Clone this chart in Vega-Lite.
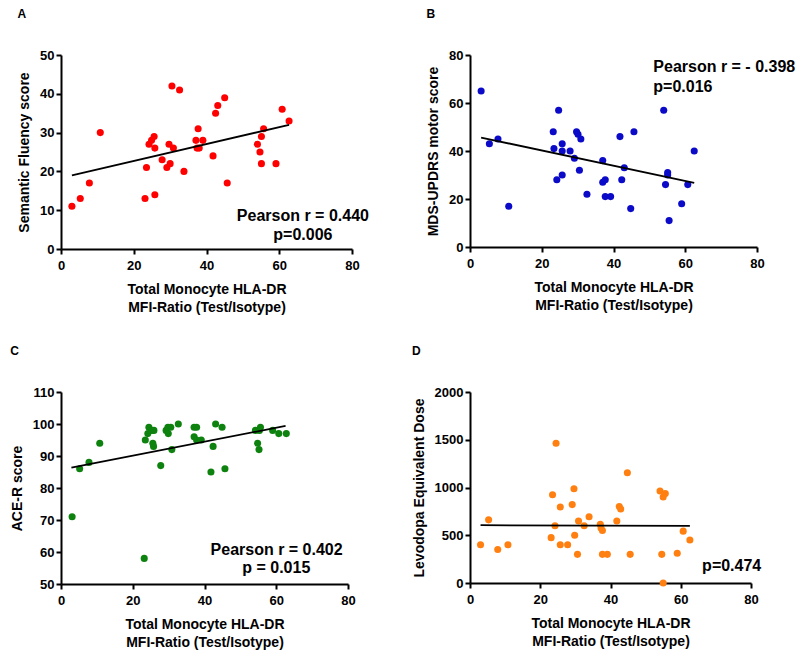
{
  "$schema": "https://vega.github.io/schema/vega-lite/v6.json",
  "background": "white",
  "padding": {"left": 10, "top": 8, "right": 5, "bottom": 5},
  "config": {
    "font": "Liberation Sans",
    "view": {"stroke": null},
    "axis": {
      "grid": false,
      "labelFont": "Liberation Sans",
      "labelFontSize": 13,
      "labelFontWeight": "bold",
      "labelColor": "black",
      "labelFlush": false,
      "labelOverlap": false,
      "titleFont": "Liberation Sans",
      "titleFontSize": 14,
      "titleFontWeight": "bold",
      "titleColor": "black",
      "titleLineHeight": 18,
      "domainColor": "black",
      "domainWidth": 2,
      "tickColor": "black",
      "tickWidth": 2,
      "tickSize": 5
    },
    "axisX": {"labelPadding": 5, "titlePadding": 10},
    "axisY": {"labelPadding": 2, "titlePadding": 8},
    "title": {"anchor": "start", "frame": "bounds", "fontSize": 12, "fontWeight": "bold", "color": "black", "offset": 28, "font": "Liberation Sans"}
  },
  "datasets": {
    "A_pts": [
      {"x": 3, "y": 11}, {"x": 5.3, "y": 13}, {"x": 7.8, "y": 17}, {"x": 10.8, "y": 30}, {"x": 23.1, "y": 13},
      {"x": 23.5, "y": 21}, {"x": 24.2, "y": 27}, {"x": 24.9, "y": 28}, {"x": 25.6, "y": 29}, {"x": 25.8, "y": 26},
      {"x": 25.8, "y": 14}, {"x": 27.8, "y": 23}, {"x": 29.1, "y": 21}, {"x": 29.7, "y": 27}, {"x": 30, "y": 22},
      {"x": 30.5, "y": 42}, {"x": 30.9, "y": 26}, {"x": 32.6, "y": 41}, {"x": 33.8, "y": 20}, {"x": 37.1, "y": 28},
      {"x": 37.4, "y": 26}, {"x": 37.7, "y": 31}, {"x": 38, "y": 26}, {"x": 39, "y": 28}, {"x": 41.8, "y": 24},
      {"x": 42.5, "y": 35}, {"x": 43.1, "y": 37}, {"x": 45, "y": 39}, {"x": 45.7, "y": 17}, {"x": 54, "y": 27},
      {"x": 54.7, "y": 25}, {"x": 55.1, "y": 29}, {"x": 55.7, "y": 31}, {"x": 55.1, "y": 22}, {"x": 59.1, "y": 22},
      {"x": 60.8, "y": 36}, {"x": 62.7, "y": 33}
    ],
    "A_line": [{"x": 3, "y": 19.0}, {"x": 62.7, "y": 32.0}],
    "A_txt": [{"x": 66.5, "y": 8.6, "t": "Pearson r = 0.440"}, {"x": 66.5, "y": 3.5, "t": "p=0.006"}],
    "B_pts": [
      {"x": 3.1, "y": 65}, {"x": 5.4, "y": 43}, {"x": 7.8, "y": 45}, {"x": 10.8, "y": 17}, {"x": 23.2, "y": 48},
      {"x": 23.4, "y": 41}, {"x": 24.2, "y": 28}, {"x": 24.7, "y": 57}, {"x": 25.7, "y": 43}, {"x": 25.7, "y": 40},
      {"x": 25.7, "y": 30}, {"x": 27.9, "y": 40}, {"x": 29.1, "y": 37}, {"x": 29.7, "y": 48}, {"x": 30.1, "y": 47},
      {"x": 30.5, "y": 32}, {"x": 30.9, "y": 45}, {"x": 32.6, "y": 22}, {"x": 37.0, "y": 36}, {"x": 37.0, "y": 27},
      {"x": 37.7, "y": 28}, {"x": 37.7, "y": 21}, {"x": 39.2, "y": 21}, {"x": 41.8, "y": 46}, {"x": 42.3, "y": 28},
      {"x": 43.0, "y": 33}, {"x": 44.8, "y": 16}, {"x": 45.7, "y": 48}, {"x": 54.0, "y": 57}, {"x": 54.5, "y": 26},
      {"x": 55.1, "y": 31}, {"x": 55.1, "y": 30}, {"x": 55.5, "y": 11}, {"x": 59.0, "y": 18}, {"x": 60.7, "y": 26},
      {"x": 62.5, "y": 40}
    ],
    "B_line": [{"x": 3.1, "y": 45.6}, {"x": 62.5, "y": 26.7}],
    "B_txt": [{"x": 51.1, "y": 74.9, "t": "Pearson r = - 0.398"}, {"x": 51.1, "y": 66.8, "t": "p=0.016"}],
    "C_pts": [
      {"x": 3.1, "y": 71}, {"x": 5.2, "y": 86}, {"x": 7.8, "y": 88}, {"x": 10.8, "y": 94}, {"x": 23.2, "y": 58},
      {"x": 23.5, "y": 95}, {"x": 24.5, "y": 99}, {"x": 24.2, "y": 97}, {"x": 25.3, "y": 98}, {"x": 25.9, "y": 98},
      {"x": 25.6, "y": 94}, {"x": 25.8, "y": 93}, {"x": 27.8, "y": 87}, {"x": 29.3, "y": 98}, {"x": 29.8, "y": 99},
      {"x": 29.9, "y": 97}, {"x": 30.6, "y": 99}, {"x": 30.9, "y": 92}, {"x": 32.7, "y": 100}, {"x": 37.1, "y": 99},
      {"x": 37.8, "y": 99}, {"x": 37.1, "y": 96}, {"x": 37.8, "y": 95}, {"x": 39.1, "y": 95}, {"x": 41.8, "y": 85},
      {"x": 42.4, "y": 93}, {"x": 43.1, "y": 100}, {"x": 44.9, "y": 99}, {"x": 45.7, "y": 86}, {"x": 54.2, "y": 98},
      {"x": 54.8, "y": 94}, {"x": 55.2, "y": 92}, {"x": 55.3, "y": 98}, {"x": 55.6, "y": 99}, {"x": 59.0, "y": 98},
      {"x": 60.7, "y": 97}, {"x": 62.8, "y": 97}
    ],
    "C_line": [{"x": 2.9, "y": 86.4}, {"x": 62.6, "y": 99.4}],
    "C_txt": [{"x": 60.1, "y": 60.6, "t": "Pearson r = 0.402"}, {"x": 60.0, "y": 54.9, "t": "p = 0.015"}],
    "D_pts": [
      {"x": 3.0, "y": 400}, {"x": 5.3, "y": 661}, {"x": 7.9, "y": 350}, {"x": 10.8, "y": 400}, {"x": 23.1, "y": 475},
      {"x": 23.5, "y": 925}, {"x": 24.2, "y": 600}, {"x": 24.5, "y": 1464}, {"x": 25.7, "y": 796}, {"x": 25.7, "y": 400},
      {"x": 27.8, "y": 400}, {"x": 29.1, "y": 821}, {"x": 29.6, "y": 986}, {"x": 29.8, "y": 500}, {"x": 30.6, "y": 300},
      {"x": 30.9, "y": 650}, {"x": 32.5, "y": 600}, {"x": 33.9, "y": 693}, {"x": 37.1, "y": 614}, {"x": 37.3, "y": 575},
      {"x": 37.7, "y": 550}, {"x": 37.7, "y": 300}, {"x": 39.1, "y": 300}, {"x": 41.8, "y": 650}, {"x": 42.5, "y": 800},
      {"x": 42.9, "y": 775}, {"x": 44.8, "y": 1154}, {"x": 45.6, "y": 300}, {"x": 54.1, "y": 964}, {"x": 54.6, "y": 300},
      {"x": 55.0, "y": 900}, {"x": 55.6, "y": 936}, {"x": 55.0, "y": 0}, {"x": 59.0, "y": 311}, {"x": 60.7, "y": 543},
      {"x": 62.6, "y": 450}
    ],
    "D_line": [{"x": 3.0, "y": 605}, {"x": 62.6, "y": 598}],
    "D_txt": [{"x": 74.5, "y": 178, "t": "p=0.474"}]
  },
  "columns": 2,
  "spacing": {"row": 31, "column": 43},
  "concat": [
    {
      "title": "A",
      "width": 291, "height": 194,
      "layer": [
        {
          "data": {"name": "A_pts"},
          "mark": {"type": "circle", "size": 50, "opacity": 1, "color": "#ff0000"},
          "encoding": {
            "x": {"field": "x", "type": "quantitative", "scale": {"domain": [0, 80], "nice": false}, "axis": {"values": [0, 20, 40, 60, 80], "tickCount": 20, "title": ["Total Monocyte HLA-DR", "MFI-Ratio (Test/Isotype)"]}},
            "y": {"field": "y", "type": "quantitative", "scale": {"domain": [0, 50], "nice": false}, "axis": {"values": [0, 10, 20, 30, 40, 50], "tickCount": 20, "title": "Semantic Fluency score"}}
          }
        },
        {
          "data": {"name": "A_line"},
          "mark": {"type": "line", "color": "black", "strokeWidth": 1.8},
          "encoding": {"x": {"field": "x", "type": "quantitative"}, "y": {"field": "y", "type": "quantitative"}}
        },
        {
          "data": {"name": "A_txt"},
          "mark": {"type": "text", "fontSize": 16, "fontWeight": "bold", "color": "black", "align": "center", "baseline": "middle"},
          "encoding": {"x": {"field": "x", "type": "quantitative"}, "y": {"field": "y", "type": "quantitative"}, "text": {"field": "t"}}
        }
      ]
    },
    {
      "title": "B",
      "width": 287, "height": 192,
      "layer": [
        {
          "data": {"name": "B_pts"},
          "mark": {"type": "circle", "size": 50, "opacity": 1, "color": "#0a0ac8"},
          "encoding": {
            "x": {"field": "x", "type": "quantitative", "scale": {"domain": [0, 80], "nice": false}, "axis": {"values": [0, 20, 40, 60, 80], "tickCount": 20, "title": ["Total Monocyte HLA-DR", "MFI-Ratio (Test/Isotype)"]}},
            "y": {"field": "y", "type": "quantitative", "scale": {"domain": [0, 80], "nice": false}, "axis": {"values": [0, 20, 40, 60, 80], "tickCount": 20, "title": "MDS-UPDRS motor score"}}
          }
        },
        {
          "data": {"name": "B_line"},
          "mark": {"type": "line", "color": "black", "strokeWidth": 1.8},
          "encoding": {"x": {"field": "x", "type": "quantitative"}, "y": {"field": "y", "type": "quantitative"}}
        },
        {
          "data": {"name": "B_txt"},
          "mark": {"type": "text", "fontSize": 16, "fontWeight": "bold", "color": "black", "align": "left", "baseline": "middle"},
          "encoding": {"x": {"field": "x", "type": "quantitative"}, "y": {"field": "y", "type": "quantitative"}, "text": {"field": "t"}}
        }
      ]
    },
    {
      "title": "C",
      "width": 287, "height": 192,
      "layer": [
        {
          "data": {"name": "C_pts"},
          "mark": {"type": "circle", "size": 50, "opacity": 1, "color": "#0e820e"},
          "encoding": {
            "x": {"field": "x", "type": "quantitative", "scale": {"domain": [0, 80], "nice": false}, "axis": {"values": [0, 20, 40, 60, 80], "tickCount": 20, "title": ["Total Monocyte HLA-DR", "MFI-Ratio (Test/Isotype)"]}},
            "y": {"field": "y", "type": "quantitative", "scale": {"domain": [50, 110], "nice": false, "zero": false}, "axis": {"values": [50, 60, 70, 80, 90, 100, 110], "tickCount": 20, "title": "ACE-R score"}}
          }
        },
        {
          "data": {"name": "C_line"},
          "mark": {"type": "line", "color": "black", "strokeWidth": 1.8},
          "encoding": {"x": {"field": "x", "type": "quantitative"}, "y": {"field": "y", "type": "quantitative"}}
        },
        {
          "data": {"name": "C_txt"},
          "mark": {"type": "text", "fontSize": 16, "fontWeight": "bold", "color": "black", "align": "center", "baseline": "middle"},
          "encoding": {"x": {"field": "x", "type": "quantitative"}, "y": {"field": "y", "type": "quantitative"}, "text": {"field": "t"}}
        }
      ]
    },
    {
      "title": "D",
      "width": 281, "height": 191,
      "layer": [
        {
          "data": {"name": "D_pts"},
          "mark": {"type": "circle", "size": 50, "opacity": 1, "color": "#ff8010"},
          "encoding": {
            "x": {"field": "x", "type": "quantitative", "scale": {"domain": [0, 80], "nice": false}, "axis": {"values": [0, 20, 40, 60, 80], "tickCount": 20, "title": ["Total Monocyte HLA-DR", "MFI-Ratio (Test/Isotype)"]}},
            "y": {"field": "y", "type": "quantitative", "scale": {"domain": [0, 2000], "nice": false}, "axis": {"values": [0, 500, 1000, 1500, 2000], "tickCount": 20, "format": "d", "title": "Levodopa  Equivalent Dose"}}
          }
        },
        {
          "data": {"name": "D_line"},
          "mark": {"type": "line", "color": "black", "strokeWidth": 1.8},
          "encoding": {"x": {"field": "x", "type": "quantitative"}, "y": {"field": "y", "type": "quantitative"}}
        },
        {
          "data": {"name": "D_txt"},
          "mark": {"type": "text", "fontSize": 16, "fontWeight": "bold", "color": "black", "align": "center", "baseline": "middle"},
          "encoding": {"x": {"field": "x", "type": "quantitative"}, "y": {"field": "y", "type": "quantitative"}, "text": {"field": "t"}}
        }
      ]
    }
  ]
}
